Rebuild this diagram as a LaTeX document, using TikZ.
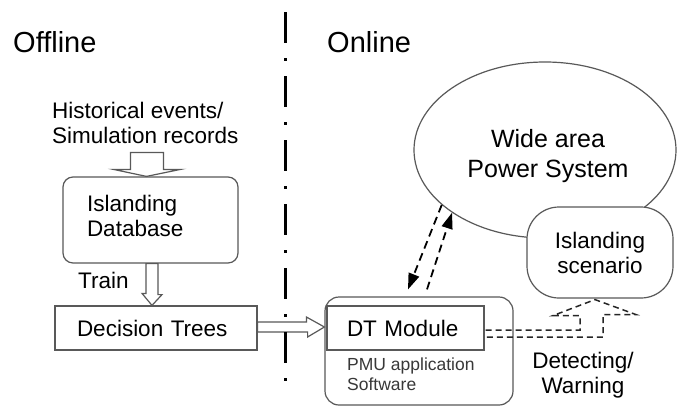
\documentclass[tikz,border=0pt]{standalone}
\usepackage{fontspec}
\setmainfont{Liberation Sans}[Ligatures=NoCommon]
\usetikzlibrary{shapes.geometric,arrows.meta,calc}

\begin{document}
\begin{tikzpicture}[x=1pt,y=-1pt,
  heading/.style={font=\fontsize{29}{34}\selectfont, inner sep=0pt},
  body/.style={font=\fontsize{22.5}{25}\selectfont},
  bigtext/.style={font=\fontsize{25}{30}\selectfont},
  smalltext/.style={font=\fontsize{17.5}{20}\selectfont},
  outline/.style={draw=black!65, line width=1.2pt},
  blockarrow/.style={draw=black!65, line width=1.2pt, fill=white, line join=miter},
  dasharrow/.style={line width=1.8pt, dash pattern=on 8pt off 5pt,
    -{Triangle[length=16pt,width=11pt]}},
  dashblock/.style={draw=black!85, line width=1.5pt, dash pattern=on 6pt off 4pt},
  divider/.style={line width=3pt, dash pattern=on 31pt off 15pt on 3pt off 15pt}
]
\useasboundingbox[fill=white] (0,0) rectangle (680,410);

% section headings
\node[heading, anchor=base west] (offline) at (13,52) {Offline};
\node[heading, anchor=base west] (online) at (327,52) {Online};

% ---------------- offline part ----------------
\node[body, anchor=north west, inner sep=0pt, align=left] (hist) at (52,102)
  {Historical events/\\Simulation records};

\node[outline, body, rounded corners=10pt, minimum width=175pt, minimum height=86pt,
  text width=127pt, inner xsep=24pt, align=left, text depth=33pt] (db) at (150.5,220)
  {Islanding\\Database};

\node[outline, body, minimum width=202pt, minimum height=44pt,
  text width=158pt, inner xsep=22pt, align=left] (dtree) at (156,328)
  {Decision Trees};

\node[body, anchor=base west, inner sep=0pt] (train) at (78,288) {Train};

% hollow arrow: records -> database
\draw[blockarrow] ($(db.north)+(-4,0)$) -- ++(-33,-7) -- ++(17,0) -- ++(0,-17)
  -- ++(33,0) -- ++(0,17) -- ++(17,0) -- cycle;
% hollow arrow: database -> decision trees
\draw[blockarrow] ($(dtree.north)+(-4,0)$) -- ++(-10,-12) -- ++(4,0) -- ($(db.south)+(-4.5,0)$)
  -- ++(12,0) -- ++(0,31) -- ++(4,0) -- cycle;

% ---------------- online part ----------------
\node[outline, rounded corners=14pt, minimum width=188pt, minimum height=108pt]
  (pmu) at (419,351) {};
\node[outline, font=\fontsize{22.5}{25}\selectfont, minimum width=157pt, minimum height=44pt,
  text width=117pt, inner xsep=20pt, align=left] (dtm) at (405.5,328) {DT Module};
\node[smalltext, text=black!78, anchor=north west, inner sep=0pt, align=left]
  (pmutext) at (347,358) {PMU application\\Software};

% hollow arrow: decision trees -> DT module
\draw[blockarrow] ($(dtm.west)+(-2,-1)$) -- ++(-18,-10) -- ++(0,5) -- ($(dtree.east)+(0,-6)$)
  -- ++(0,10) -- ++(50,0) -- ++(0,5) -- cycle;

% power system and islanding scenario
\node[ellipse, outline, minimum width=262pt, minimum height=176pt, inner sep=0pt]
  (wide) at (545,150) {};
\node[bigtext, anchor=north, inner sep=0pt, align=center] (widetext) at (548,129.5)
  {Wide area\\Power System};
\node[outline, fill=white, body, rounded corners=32pt, minimum width=146pt,
  minimum height=91pt, align=center] (scen) at (600,252.5)
  {Islanding\\scenario};

% measurement exchange between DT module and the power system
\draw[dasharrow] (wide.208) -- ($(pmu.north)+(-11,-7)$);
\draw[dasharrow] ($(pmu.north)+(8,-7)$) -- (wide.214);

% dashed hollow arrow: detecting / warning
\draw[dashblock] ($(dtm.east)+(1,2)$) -| ($(scen.south)+(-20,17)$) -- ++(-27,0)
  -- ($(scen.south)+(-5,1)$) -- ++(41,15) -- ++(-33,0) |- ($(dtm.east)+(1,9)$);

\node[body, anchor=north, inner sep=0pt, align=center] (detect) at (583,352)
  {Detecting/\\Warning};

% offline / online separator
\coordinate (divtop) at (285.5,12);
\coordinate (divbot) at (285.5,381);
\draw[divider] (divtop) -- (divbot);
\end{tikzpicture}
\end{document}
